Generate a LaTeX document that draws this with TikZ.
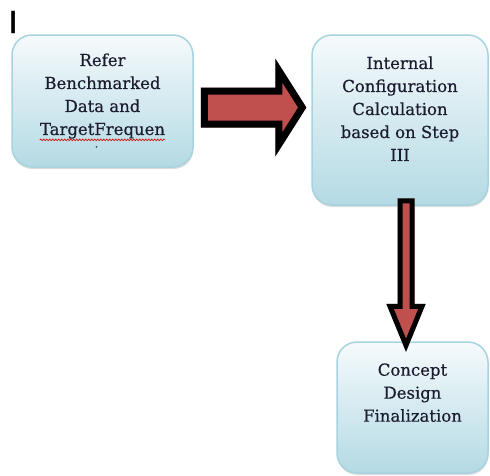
\documentclass[tikz,border=0pt]{standalone}
\usepackage{fontspec}
\setmainfont{DejaVu Serif}
\newfontfamily\boxfont{DejaVu Serif}[FakeBold=0.5]
\newfontfamily\cursorfont{Liberation Sans}[FakeBold=1.2]
\usetikzlibrary{shadows,calc,decorations.pathmorphing}

\definecolor{boxline}{HTML}{A6D3DF}
\definecolor{boxtop}{HTML}{F5FAFC}
\definecolor{boxmid}{HTML}{DFEFF4}
\definecolor{boxbot}{HTML}{B4DAE4}
\definecolor{arrowfill}{HTML}{C0504D}
\definecolor{arrowshade}{HTML}{D9A3A2}
\definecolor{inktext}{HTML}{1C1C30}

\tikzset{
  stepbox/.style={draw=boxline, line width=1.5pt, rounded corners=20pt,
    top color=boxtop, middle color=boxmid, bottom color=boxbot,
    drop shadow={shadow xshift=0.5pt, shadow yshift=-2pt, opacity=0.22, fill=black!60}},
  boxtext/.style={align=center, inner sep=0pt, text=inktext, anchor=north,
    font=\boxfont\fontsize{16.5}{23}\selectfont},
  blockarrow/.style={draw=black, fill=arrowfill, line join=miter},
  arrowshadow/.style={draw=arrowshade, fill=arrowshade, line join=miter}
}

\begin{document}
\begin{tikzpicture}[x=1pt,y=-1pt]
\useasboundingbox (0,0) rectangle (490,475);

% cursor-like capital I in the corner
\node[inner sep=0pt, anchor=base west, font=\cursorfont\fontsize{32}{32}\selectfont] (mark) at (8.5,33) {I};

% process boxes
\node[stepbox, minimum width=181pt, minimum height=132pt] (refer) at (102.5,101) {};
\node[stepbox, minimum width=176pt, minimum height=170pt] (config) at (400,120) {};
\node[stepbox, minimum width=151pt, minimum height=131pt] (concept) at (412.5,407.5) {};

% box captions
\node[boxtext] (refertext) at ($(refer.north)+(0,19)$) {Refer\\Benchmarked\\Data and\\TargetFrequen};
\node[boxtext] (configtext) at ($(config.north)+(0,22)$) {Internal\\Configuration\\Calculation\\based on Step\\III};
\node[boxtext] (concepttext) at ($(concept.north)+(0,22)$) {Concept\\Design\\Finalization};

% spell-check underline and stray mark below the first caption
\draw[red!85!black, line width=0.6pt, decorate, decoration={snake, amplitude=0.9pt, segment length=3pt}]
  ($(refertext.south west)+(0,1)$) -- ($(refertext.south east)+(0,1)$);
\fill[black!70] ($(refertext.south)+(-6,8)$) circle (0.9pt);

% horizontal block arrow
\coordinate (a1s) at ($(refer.east)+(10.5,6.5)$);
\coordinate (a1e) at ($(config.west)+(-9,-12.5)$);
\begin{scope}[shift={(2,3)}]
\draw[arrowshadow, line width=7pt] ($(a1s)+(0,-16.5)$) -- ($(a1s)+(74.5,-16.5)$) -- ($(a1s)+(74.5,-37)$)
  -- (a1e) -- ($(a1s)+(74.5,37)$) -- ($(a1s)+(74.5,16.5)$) -- ($(a1s)+(0,16.5)$) -- cycle;
\end{scope}
\draw[blockarrow, line width=7pt] ($(a1s)+(0,-16.5)$) -- ($(a1s)+(74.5,-16.5)$) -- ($(a1s)+(74.5,-37)$)
  -- (a1e) -- ($(a1s)+(74.5,37)$) -- ($(a1s)+(74.5,16.5)$) -- ($(a1s)+(0,16.5)$) -- cycle;

% vertical block arrow
\coordinate (a2s) at ($(config.south)+(6,-5)$);
\coordinate (a2e) at ($(concept.north)+(-6.5,4)$);
\begin{scope}[shift={(2,2)}]
\draw[arrowshadow, line width=5pt] ($(a2s)+(-6,0)$) -- ($(a2s)+(-6,105.5)$) -- ($(a2s)+(-16,105.5)$)
  -- (a2e) -- ($(a2s)+(16,105.5)$) -- ($(a2s)+(6,105.5)$) -- ($(a2s)+(6,0)$) -- cycle;
\end{scope}
\draw[blockarrow, line width=5pt] ($(a2s)+(-6,0)$) -- ($(a2s)+(-6,105.5)$) -- ($(a2s)+(-16,105.5)$)
  -- (a2e) -- ($(a2s)+(16,105.5)$) -- ($(a2s)+(6,105.5)$) -- ($(a2s)+(6,0)$) -- cycle;
\end{tikzpicture}
\end{document}
